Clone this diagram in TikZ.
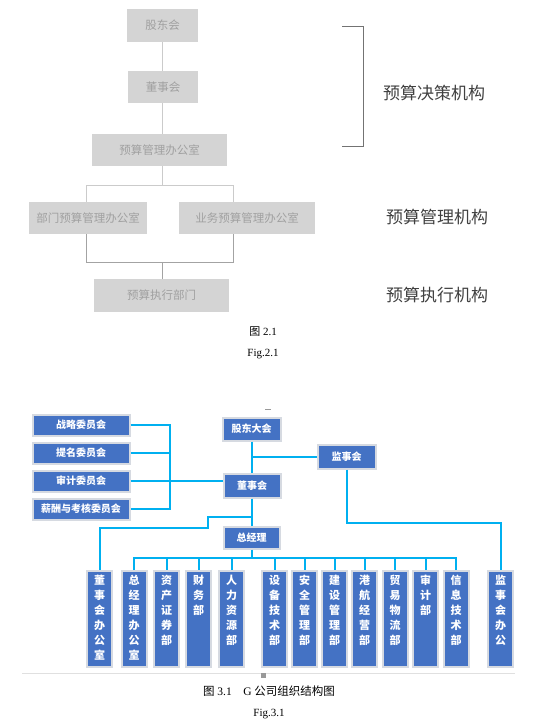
\documentclass[tikz,border=0pt]{standalone}
\usepackage{fontspec}
\setmainfont{Liberation Serif}
\newfontfamily\cjk{Noto Sans CJK SC}
\usetikzlibrary{positioning}
\definecolor{boxgray}{HTML}{D4D4D4}
\definecolor{txtgray}{HTML}{A0A0A0}
\definecolor{linegray}{HTML}{CBCBCB}
\definecolor{linedark}{HTML}{A3A3A3}
\definecolor{orgblue}{HTML}{4472C4}
\definecolor{orgcyan}{HTML}{00B0F0}
\definecolor{framegray}{HTML}{D6DAE1}
\newcommand{\vlab}[1]{\parbox[t][88pt][t]{14pt}{\centering\fontsize{11}{15}\selectfont #1}}

\begin{document}
\begin{tikzpicture}[
  x=1pt, y=-1pt,
  gbox/.style={fill=boxgray, text=txtgray, inner sep=0, minimum height=32pt, font=\cjk\fontsize{11.5}{13}\selectfont},
  lvl/.style={anchor=west, text=black!75, inner sep=0, font=\cjk\fontsize{17}{19}\selectfont},
  captxt/.style={inner sep=0, font=\fontsize{11}{13}\selectfont},
  bbox/.style={fill=orgblue, draw=framegray, line width=2pt, text=white, inner sep=0, font=\cjk\bfseries\fontsize{10}{12}\selectfont},
  vbox/.style={fill=orgblue, draw=framegray, line width=2pt, text=white, anchor=north, minimum width=25pt, minimum height=96pt, inner xsep=0, inner ysep=4pt, font=\cjk\bfseries},
  gline/.style={draw=linegray, line width=0.9pt},
  dline/.style={draw=linedark, line width=0.9pt},
  link/.style={draw=orgcyan, line width=2pt}
]
\useasboundingbox (0,0) rectangle (535,728);

% budget organisation (fig 2.1)
\node[gbox, minimum width=71pt, minimum height=33pt] (gdh) at (162.5,25.5) {股东会};
\node[gbox, minimum width=70pt] (dsh) at (163,87) {董事会};
\node[gbox, minimum width=135pt] (ysgl) at (159.5,150) {预算管理办公室};
\node[gbox, minimum width=118pt] (bmys) at (88,218) {部门预算管理办公室};
\node[gbox, minimum width=136pt] (ywys) at (247,218) {业务预算管理办公室};
\node[gbox, minimum width=135pt, minimum height=33pt] (yszx) at (161.5,295.5) {预算执行部门};

\coordinate (tl) at (86,185);
\coordinate (tr) at (233,185);
\coordinate (bl) at (86,262);
\coordinate (br) at (233,262);
\draw[gline] (gdh.south -| 162,0) -- (dsh.north -| 162,0);
\draw[gline] (dsh.south -| 162,0) -- (ysgl.north -| 162,0);
\draw[gline] (ysgl.south -| 162,0) -- (tl -| 162,0);
\draw[gline] (bmys.north -| tl) -- (tl) -- (tr) -- (ywys.north -| tr);
\draw[dline] (bmys.south -| bl) -- (bl) -- (br) -- (ywys.south -| br);
\draw[dline] (bl -| 162,0) -- (yszx.north -| 162,0);

\coordinate (bt) at (342,26);
\coordinate (bb) at (342,146);
\draw[draw=black!55, line width=0.9pt] (bt) -- ++(21,0) |- (bb);

\node[lvl] (jcjg) at (383,93) {预算决策机构};
\node[lvl] (gljg) at (386,217) {预算管理机构};
\node[lvl] (zxjg) at (386,295) {预算执行机构};

\node[captxt] (cap2) at (263,332) {{\cjk 图} 2.1};
\node[captxt] (fig2) at (263,354) {Fig.2.1};

% company structure (fig 3.1)
\node[bbox, minimum width=97pt, minimum height=21pt] (zlwy) at (81,425) {战略委员会};
\node[bbox, minimum width=97pt, minimum height=21pt] (tmwy) at (81,453) {提名委员会};
\node[bbox, minimum width=97pt, minimum height=21pt] (sjwy) at (81,481) {审计委员会};
\node[bbox, minimum width=97pt, minimum height=21pt] (xcwy) at (81,509) {薪酬与考核委员会};
\node[bbox, minimum width=58pt, minimum height=23pt] (gddh) at (251.5,429) {股东大会};
\node[bbox, minimum width=58pt, minimum height=24pt] (jsh) at (346.5,456.5) {监事会};
\node[bbox, minimum width=57pt, minimum height=24pt] (dshb) at (252,485.5) {董事会};
\node[bbox, minimum width=56pt, minimum height=22pt] (zjl) at (251.5,537.5) {总经理};

\node[vbox] (dshbgs) at (99.5,570) {\vlab{董\\事\\会\\办\\公\\室}};
\node[vbox] (zjlbgs) at (134,570) {\vlab{总\\经\\理\\办\\公\\室}};
\node[vbox] (zczq) at (166.5,570) {\vlab{资\\产\\证\\券\\部}};
\node[vbox] (cwb) at (198.5,570) {\vlab{财\\务\\部}};
\node[vbox] (rlzy) at (231.5,570) {\vlab{人\\力\\资\\源\\部}};
\node[vbox] (sbjs) at (274.5,570) {\vlab{设\\备\\技\\术\\部}};
\node[vbox] (aqgl) at (304.5,570) {\vlab{安\\全\\管\\理\\部}};
\node[vbox] (jsgl) at (334.5,570) {\vlab{建\\设\\管\\理\\部}};
\node[vbox] (ghjy) at (364.5,570) {\vlab{港\\航\\经\\营\\部}};
\node[vbox] (mywl) at (395,570) {\vlab{贸\\易\\物\\流\\部}};
\node[vbox] (sjb) at (425.5,570) {\vlab{审\\计\\部}};
\node[vbox] (xxjs) at (456,570) {\vlab{信\\息\\技\\术\\部}};
\node[vbox] (jshbgs) at (500.5,570) {\vlab{监\\事\\会\\办\\公}};

\coordinate (wbus) at (170,0);
\coordinate (jsturn) at (500.5,523);
\coordinate (st1) at (208,517);
\coordinate (st2) at (208,528);
\coordinate (bus) at (0,558);

\draw[link] (zlwy.east) -| (wbus |- xcwy.east) -- (xcwy.east);
\draw[link] (tmwy.east) -- (tmwy.east -| wbus);
\draw[link] (sjwy.east) -- (dshb.west |- sjwy.east);
\draw[link] (gddh.south) -- (gddh.south |- dshb.north);
\draw[link] (gddh.south |- jsh.west) -- (jsh.west);
\draw[link] (jsh.south) |- (jsturn) -- (jshbgs.north);
\draw[link] (dshb.south) -- (dshb.south |- zjl.north);
\draw[link] (dshb.south |- st1) -- (st1) -- (st2) -| (dshbgs.north);
\draw[link] (zjl.south) -- (zjl.south |- bus);
\draw[link] (zjlbgs.north) |- (xxjs.north |- bus) -- (xxjs.north);
\draw[link] (zczq.north |- bus) -- (zczq.north);
\draw[link] (cwb.north |- bus) -- (cwb.north);
\draw[link] (rlzy.north |- bus) -- (rlzy.north);
\draw[link] (sbjs.north |- bus) -- (sbjs.north);
\draw[link] (aqgl.north |- bus) -- (aqgl.north);
\draw[link] (jsgl.north |- bus) -- (jsgl.north);
\draw[link] (ghjy.north |- bus) -- (ghjy.north);
\draw[link] (mywl.north |- bus) -- (mywl.north);
\draw[link] (sjb.north |- bus) -- (sjb.north);

% page marks
\draw[black!12, line width=1pt] (22,673) -- (515,673);
\fill[black!40] (261,673) rectangle (266,678);
\draw[black!40, line width=0.8pt] (265,409) -- (271,409);

\node[captxt, font=\fontsize{11.5}{13}\selectfont] (cap3) at (269,691) {{\cjk 图} 3.1\quad G {\cjk 公司组织结构图}};
\node[captxt] (fig3) at (269,714) {Fig.3.1};

\end{tikzpicture}
\end{document}
